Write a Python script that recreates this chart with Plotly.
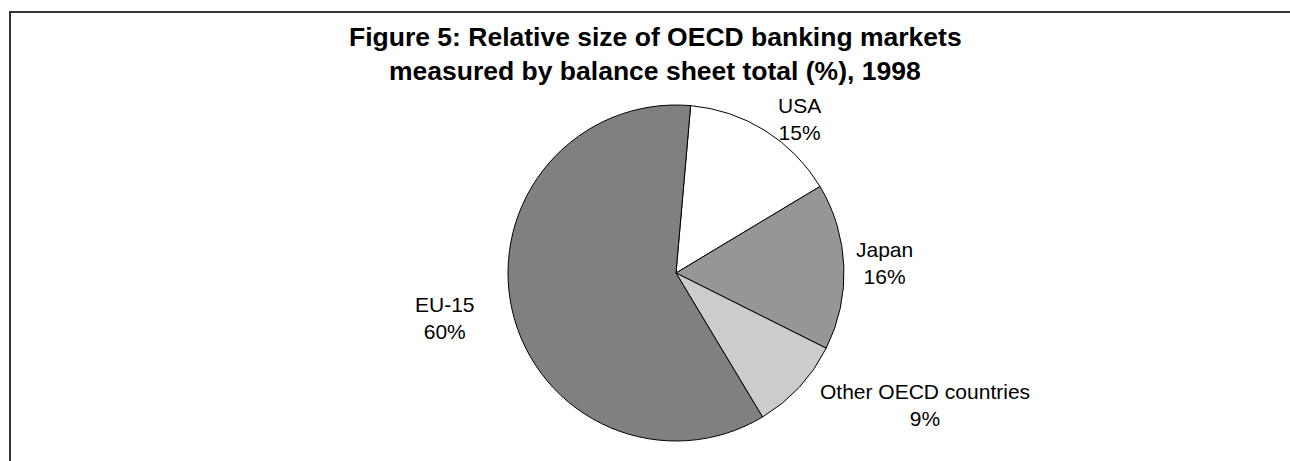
import plotly.graph_objects as go

# Share of OECD banking balance sheet total, 1998 (%)
regions = ["USA", "Japan", "Other OECD countries", "EU-15"]
shares = [15, 16, 9, 60]
slice_colors = ["#ffffff", "#969696", "#cccccc", "#808080"]

title_lines = [
    "Figure 5: Relative size of OECD banking markets",
    "measured by balance sheet total (%), 1998",
]

W, H = 1290, 461
FONT = "Liberation Sans, Arial, sans-serif"


def px_x(x):
    return x / W


def px_y(y):
    return 1 - y / H


# pie geometry in pixels
cx, cy, r = 676, 273, 168

fig = go.Figure(
    go.Pie(
        labels=regions,
        values=shares,
        sort=False,
        direction="clockwise",
        rotation=5,
        marker=dict(colors=slice_colors, line=dict(color="#000000", width=1)),
        textinfo="none",
        hoverinfo="label+percent",
        showlegend=False,
        domain=dict(
            x=[px_x(cx - r), px_x(cx + r)],
            y=[px_y(cy + r), px_y(cy - r)],
        ),
    )
)

# label anchor points (pixel centres of each two-line label)
label_pos = {
    "USA": (799, 119),
    "Japan": (884, 263),
    "Other OECD countries": (925, 405),
    "EU-15": (445, 318),
}

annotations = []
for name, val in zip(regions, shares):
    x, y = label_pos[name]
    annotations.append(
        dict(
            x=px_x(x), y=px_y(y), xref="paper", yref="paper",
            text=f"{name}<br>{val}%", showarrow=False,
            xanchor="center", yanchor="middle", align="center",
            font=dict(family=FONT, size=21, color="#000000"),
        )
    )

for i, line in enumerate(title_lines):
    annotations.append(
        dict(
            x=px_x(655), y=px_y(37 + i * 34), xref="paper", yref="paper",
            text=f"<b>{line}</b>", showarrow=False,
            xanchor="center", yanchor="middle",
            font=dict(family=FONT, size=26.5, color="#000000"),
        )
    )

fig.update_layout(
    width=W,
    height=H,
    margin=dict(l=0, r=0, t=0, b=0),
    paper_bgcolor="#ffffff",
    plot_bgcolor="#ffffff",
    annotations=annotations,
    shapes=[
        dict(
            type="rect", xref="paper", yref="paper",
            x0=px_x(10), x1=1.05, y0=-0.05, y1=px_y(12),
            line=dict(color="#333333", width=2),
            fillcolor="rgba(0,0,0,0)",
        )
    ],
)

fig.write_html("out.html")
